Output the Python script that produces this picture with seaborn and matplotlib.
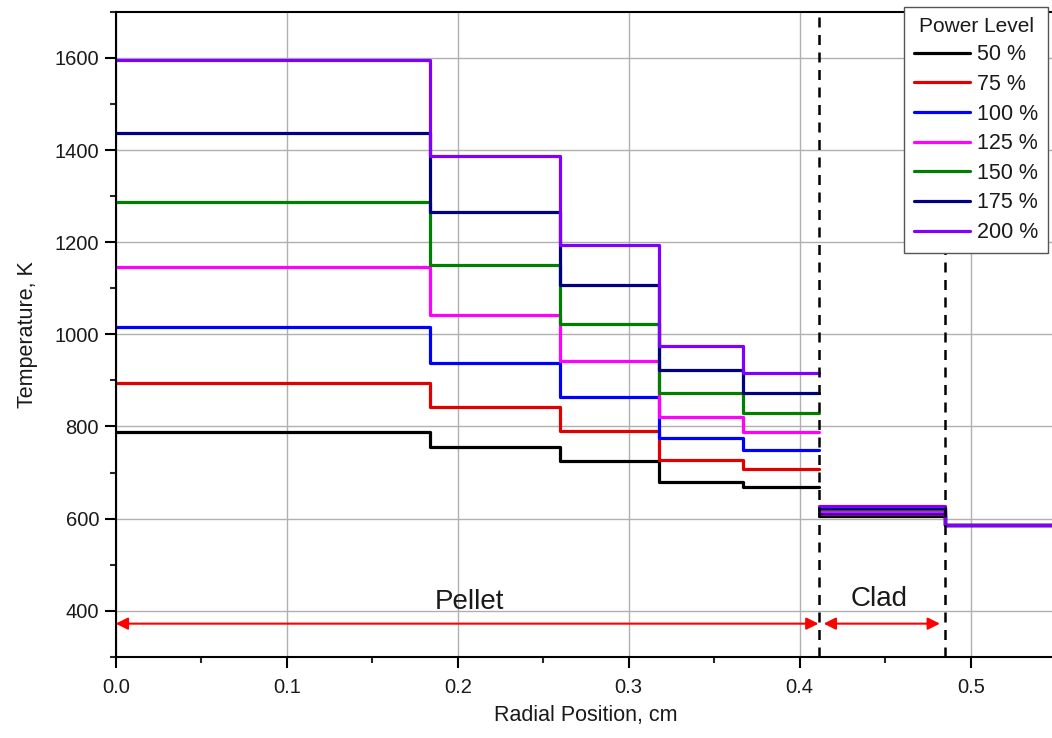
import numpy as np
import pandas as pd
import matplotlib
matplotlib.use("Agg")
import matplotlib.pyplot as plt
from matplotlib.ticker import MultipleLocator, FormatStrFormatter
import seaborn as sns

# zone boundaries (cm)
pellet_r = [0.0, 0.184, 0.26, 0.318, 0.367, 0.411]
clad_r = [0.411, 0.485, 0.55]
clad_in = 0.411
clad_out = 0.485

levels = ["50 %", "75 %", "100 %", "125 %", "150 %", "175 %", "200 %"]
colors = ["#000000", "#e00000", "#0000ff", "#ff00ff", "#008000", "#000080", "#8000ff"]

# temperature in each pellet ring (K), centre outwards
t50 = [787, 756, 724, 680, 669]
t75 = [895, 843, 791, 728, 708]
t100 = [1016, 938, 865, 774, 748]
t125 = [1147, 1043, 943, 821, 789]
t150 = [1288, 1151, 1023, 873, 830]
t175 = [1437, 1266, 1108, 923, 873]
t200 = [1595, 1387, 1194, 975, 917]
pellet_T = [t50, t75, t100, t125, t150, t175, t200]

# clad and coolant temperature (K)
clad_T = [606, 610, 613, 617, 620, 624, 628]
cool_T = [587, 587, 587, 587, 587, 587, 587]

rows = []
for lvl, tp, tc, tw in zip(levels, pellet_T, clad_T, cool_T):
    ys = tp + [tp[-1]]
    for r, t in zip(pellet_r, ys):
        rows.append({"r": r, "T": t, "level": lvl, "seg": "pellet"})
    for r, t in zip(clad_r, [tc, tw, tw]):
        rows.append({"r": r, "T": t, "level": lvl, "seg": "clad"})
df = pd.DataFrame(rows)

sns.set_style("ticks")
plt.rcParams["font.family"] = ["Liberation Sans", "DejaVu Sans"]
plt.rcParams["text.color"] = "#1a1a1a"
plt.rcParams["axes.labelcolor"] = "#1a1a1a"

fig = plt.figure(figsize=(10.52, 7.38), dpi=100)
ax = fig.add_axes([0.110, 0.110, 0.894, 0.874])

ax.grid(True, color="#b0b0b0", lw=1.0, zorder=0)
ax.set_axisbelow(True)

sns.lineplot(data=df, x="r", y="T", hue="level", hue_order=levels,
             palette=dict(zip(levels, colors)), units="seg", estimator=None,
             drawstyle="steps-post", lw=2.3, ax=ax, legend=True)

ax.axvline(clad_in, color="black", ls=(0, (4, 3)), lw=1.8, zorder=5)
ax.axvline(clad_out, color="black", ls=(0, (4, 3)), lw=1.8, zorder=5)

# region arrows
ax.annotate("", xy=(0.0, 372), xytext=(clad_in, 372),
            arrowprops=dict(arrowstyle="<|-|>", color="red", lw=1.5,
                            mutation_scale=18, shrinkA=0, shrinkB=0))
ax.annotate("", xy=(clad_in + 0.003, 372), xytext=(clad_out - 0.003, 372),
            arrowprops=dict(arrowstyle="<|-|>", color="red", lw=1.5,
                            mutation_scale=18, shrinkA=0, shrinkB=0))
ax.text(0.207, 420, "Pellet", fontsize=20, ha="center", va="center")
ax.text(0.4465, 425, "Clad", fontsize=20, ha="center", va="center")

ax.set_xlim(0, 0.55)
ax.set_ylim(300, 1700)
ax.xaxis.set_major_locator(MultipleLocator(0.1))
ax.xaxis.set_minor_locator(MultipleLocator(0.05))
ax.xaxis.set_major_formatter(FormatStrFormatter("%.1f"))
ax.yaxis.set_major_locator(MultipleLocator(200))
ax.yaxis.set_minor_locator(MultipleLocator(100))
ax.tick_params(axis="both", which="major", direction="out", length=8, width=1.5,
               labelsize=14.5, colors="black", labelcolor="#1a1a1a")
ax.tick_params(axis="x", which="major", pad=7)
ax.tick_params(axis="y", which="major", pad=4)
ax.tick_params(axis="both", which="minor", direction="out", length=4, width=1.5)
for s in ["left", "bottom", "top"]:
    ax.spines[s].set_linewidth(1.5)
    ax.spines[s].set_color("black")
ax.spines["right"].set_visible(False)

ax.set_xlabel("Radial Position, cm", fontsize=15.5, labelpad=6)
ax.set_ylabel("Temperature, K", fontsize=15.5, labelpad=12)

handles, labels = ax.get_legend_handles_labels()
leg = ax.legend(handles, labels, title="Power Level", loc="upper right",
                bbox_to_anchor=(1.003, 1.024), fontsize=15.5, title_fontsize=15,
                frameon=True, fancybox=False, framealpha=1, edgecolor="#555555",
                handlelength=2.6, handletextpad=0.35, labelspacing=0.40,
                borderpad=0.45)
leg.get_frame().set_linewidth(1.0)
leg.set_zorder(10)

fig.savefig("out.png", dpi=100)
